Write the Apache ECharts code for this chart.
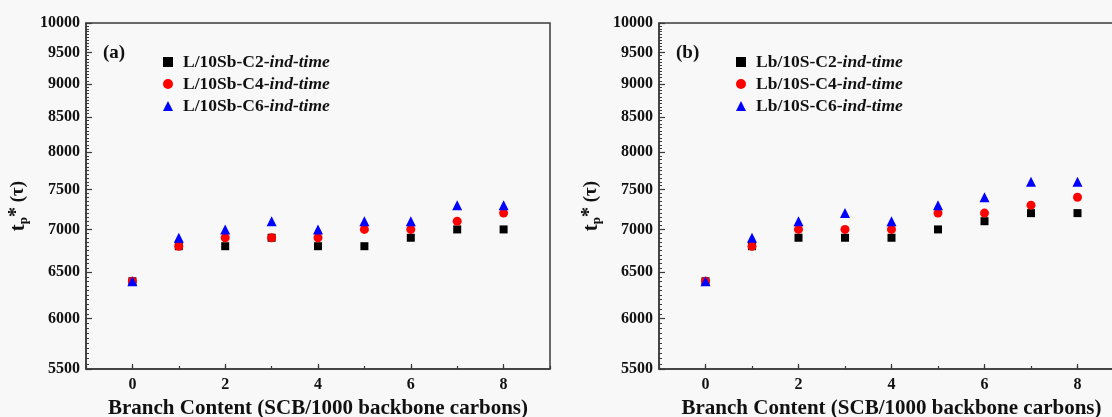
<!DOCTYPE html>
<html>
<head>
<meta charset="utf-8">
<script src="https://cdn.jsdelivr.net/npm/echarts@6/dist/echarts.min.js"></script>
<style>
  html, body { margin: 0; padding: 0; background: #f8f8f8; }
  #main { width: 1112px; height: 417px; }
</style>
</head>
<body>
<div id="main"></div>
<script>
// branch content (SCB / 1000 backbone carbons)
var branchContent = [0, 1, 2, 3, 4, 5, 6, 7, 8];

// panel (a): L/10Sb blends
var namesA = ["L/10Sb-C2-ind-time", "L/10Sb-C4-ind-time", "L/10Sb-C6-ind-time"];
var a_C2 = [6400, 6800, 6800, 6900, 6800, 6800, 6900, 7000, 7000];
var a_C4 = [6400, 6800, 6900, 6900, 6900, 7000, 7000, 7100, 7200];
var a_C6 = [6400, 6900, 7000, 7100, 7000, 7100, 7100, 7300, 7300];

// panel (b): Lb/10S blends
var namesB = ["Lb/10S-C2-ind-time", "Lb/10S-C4-ind-time", "Lb/10S-C6-ind-time"];
var b_C2 = [6400, 6800, 6900, 6900, 6900, 7000, 7100, 7200, 7200];
var b_C4 = [6400, 6800, 7000, 7000, 7000, 7200, 7200, 7300, 7400];
var b_C6 = [6400, 6900, 7100, 7200, 7100, 7300, 7400, 7600, 7600];

// tick labels
var yTicks = [5500, 6000, 6500, 7000, 7500, 8000, 8500, 9000, 9500, 10000];
var xLabels = [0, 2, 4, 6, 8];
var xMinor = [-1, 0, 1, 2, 3, 4, 5, 6, 7, 8, 9];
var yMinor = [];
for (var v = 5500; v <= 10000; v += 50) yMinor.push(v);

var serif = "Liberation Serif";
var axisColor = "#3a3a3a";

var chart = echarts.init(document.getElementById("main"));

function pairs(ys) {
  return branchContent.map(function (x, i) { return [x, ys[i]]; });
}

function mainX(grid) {
  return {
    gridIndex: grid, type: "value", min: -1, max: 9, interval: 1,
    axisLine: { show: true, onZero: false, lineStyle: { color: axisColor, width: 1.5 } },
    axisTick: { show: true, inside: true, length: 5, customValues: xLabels, lineStyle: { color: axisColor, width: 1.2 } },
    axisLabel: { customValues: xLabels, color: "#111", fontFamily: serif, fontWeight: "bold", fontSize: 16, margin: 8 },
    splitLine: { show: false },
    name: "Branch Content (SCB/1000 backbone carbons)",
    nameLocation: "middle", nameGap: 29,
    nameTextStyle: { color: "#111", fontFamily: serif, fontWeight: "bold", fontSize: 21 }
  };
}
function minorX(grid) {
  return {
    gridIndex: grid, type: "value", min: -1, max: 9, interval: 1, position: "bottom",
    axisLine: { show: false, onZero: false },
    axisTick: { show: true, inside: true, length: 3, customValues: xMinor, lineStyle: { color: axisColor, width: 1.2 } },
    axisLabel: { show: false }, splitLine: { show: false }
  };
}
function mainY(grid) {
  return {
    gridIndex: grid, type: "log", logBase: 10, min: 5500, max: 10000,
    axisLine: { show: true, onZero: false, lineStyle: { color: axisColor, width: 1.5 } },
    axisTick: { show: true, inside: true, length: 6, customValues: yTicks, lineStyle: { color: axisColor, width: 1.2 } },
    axisLabel: {
      customValues: yTicks, color: "#111", fontFamily: serif, fontWeight: "bold", fontSize: 16, margin: 6,
      formatter: function (val) { return String(Math.round(val)); }
    },
    splitLine: { show: false }, minorTick: { show: false },
    name: "{t|t}{p|p}{s|*}{r| (\u03c4)}",
    nameLocation: "middle", nameGap: 56, nameRotate: 90,
    nameTextStyle: {
      padding: [0, 0, 0, -20],
      rich: {
        t: { fontFamily: serif, fontWeight: "bold", fontSize: 21, color: "#111" },
        p: { fontFamily: serif, fontWeight: "bold", fontSize: 13, color: "#111", verticalAlign: "bottom", padding: [10, 0, 0, 0] },
        s: { fontFamily: serif, fontWeight: "bold", fontSize: 20, color: "#111", verticalAlign: "top" },
        r: { fontFamily: serif, fontWeight: "bold", fontSize: 19, color: "#111" }
      }
    }
  };
}
function minorY(grid) {
  return {
    gridIndex: grid, type: "log", logBase: 10, min: 5500, max: 10000, position: "left",
    axisLine: { show: false, onZero: false },
    axisTick: { show: true, inside: true, length: 3, customValues: yMinor, lineStyle: { color: axisColor, width: 1 } },
    axisLabel: { show: false }, splitLine: { show: false }
  };
}

function legend(left, names) {
  return {
    orient: "vertical", left: left, top: 48, itemWidth: 10, itemHeight: 10, itemGap: 4,
    data: names,
    formatter: function (name) {
      return "{n|" + name.replace("ind-time", "") + "}{i|ind-time}";
    },
    textStyle: {
      rich: {
        n: { fontFamily: serif, fontWeight: "bold", fontSize: 17.5, color: "#111", padding: [0, 0, 0, 5] },
        i: { fontFamily: serif, fontWeight: "bold", fontStyle: "italic", fontSize: 17.5, color: "#111" }
      }
    }
  };
}

function scatter(name, ys, axis, symbol, color, size) {
  return {
    name: name, type: "scatter", xAxisIndex: axis, yAxisIndex: axis,
    symbol: symbol, symbolSize: size, data: pairs(ys),
    itemStyle: { color: color, opacity: 1 }
  };
}

var option = {
  backgroundColor: "#f8f8f8",
  animation: false,
  grid: [
    { left: 86, top: 23, width: 464, height: 346, outerBoundsMode: "none", show: true, borderColor: axisColor, borderWidth: 1.5, backgroundColor: "transparent" },
    { left: 659, top: 23, width: 465, height: 346, outerBoundsMode: "none", show: true, borderColor: axisColor, borderWidth: 1.5, backgroundColor: "transparent" }
  ],
  xAxis: [mainX(0), minorX(0), mainX(1), minorX(1)],
  yAxis: [mainY(0), minorY(0), mainY(1), minorY(1)],
  legend: [legend(158, namesA), legend(731, namesB)],
  graphic: [
    { type: "text", left: 103, top: 44, style: { text: "(a)", fontFamily: serif, fontWeight: "bold", fontSize: 19, fill: "#111" } },
    { type: "text", left: 676, top: 44, style: { text: "(b)", fontFamily: serif, fontWeight: "bold", fontSize: 19, fill: "#111" } }
  ],
  series: [
    scatter(namesA[0], a_C2, 0, "rect", "#000000", 8),
    scatter(namesA[1], a_C4, 0, "circle", "#ff0000", 9),
    scatter(namesA[2], a_C6, 0, "triangle", "#0000ff", 10),
    scatter(namesB[0], b_C2, 2, "rect", "#000000", 8),
    scatter(namesB[1], b_C4, 2, "circle", "#ff0000", 9),
    scatter(namesB[2], b_C6, 2, "triangle", "#0000ff", 10)
  ]
};

chart.setOption(option);
window.onresize = function () { chart.resize(); };
</script>
</body>
</html>
